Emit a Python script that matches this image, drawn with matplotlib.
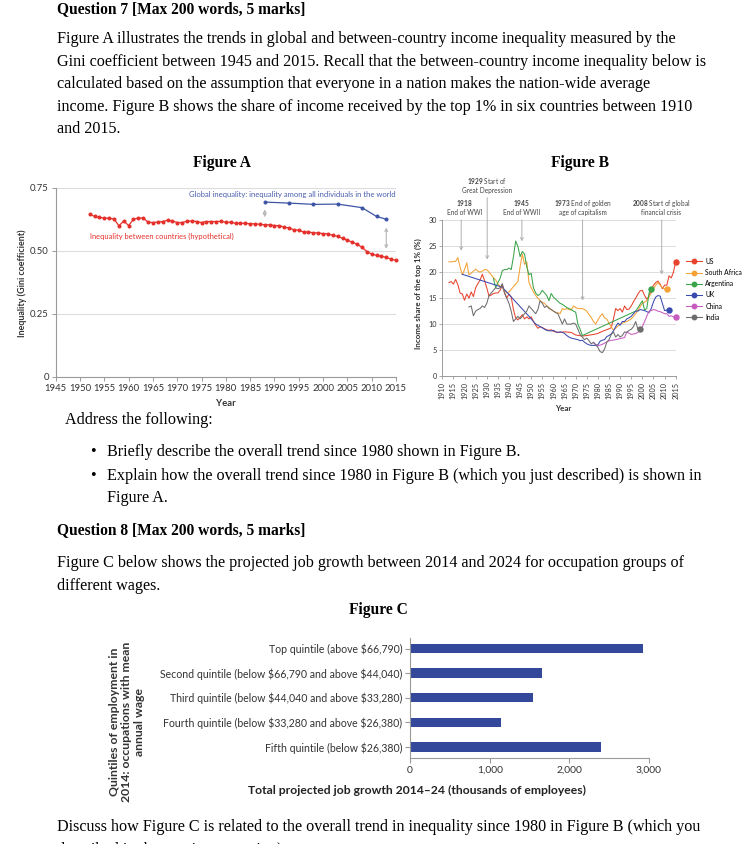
import matplotlib
matplotlib.use("Agg")
import matplotlib.pyplot as plt
from matplotlib.lines import Line2D

W, H = 753, 844
plt.rcParams['font.family'] = ['Lato', 'DejaVu Sans']
plt.rcParams['mathtext.fontset'] = 'custom'
plt.rcParams['mathtext.rm'] = 'Lato'
plt.rcParams['mathtext.bf'] = 'Lato:bold'

# ---------------- Figure A data ----------------
between_years = list(range(1952, 2016))
between_gini = [0.645, 0.636, 0.632, 0.630, 0.629, 0.626, 0.599, 0.618, 0.600, 0.625,
                0.630, 0.630, 0.613, 0.612, 0.614, 0.616, 0.621, 0.618, 0.612, 0.612,
                0.617, 0.618, 0.616, 0.612, 0.616, 0.616, 0.616, 0.617, 0.613, 0.613,
                0.609, 0.609, 0.609, 0.607, 0.607, 0.605, 0.603, 0.603, 0.600, 0.600,
                0.593, 0.591, 0.583, 0.582, 0.574, 0.575, 0.571, 0.571, 0.568, 0.567,
                0.561, 0.558, 0.549, 0.542, 0.534, 0.526, 0.514, 0.497, 0.487, 0.482,
                0.478, 0.474, 0.467, 0.462]
global_years = [1988, 1993, 1998, 2003, 2008, 2011, 2013]
global_gini = [0.693, 0.689, 0.684, 0.685, 0.671, 0.636, 0.625]

# ---------------- Figure B data ----------------
us_years = [1913, 1914, 1915, 1916, 1917, 1918, 1919, 1920, 1921, 1922, 1923, 1924, 1925, 1926,
            1927, 1928, 1929, 1930, 1931, 1932, 1933, 1934, 1935, 1936, 1937, 1938, 1939, 1940,
            1941, 1942, 1943, 1944, 1945, 1946, 1947, 1948, 1949, 1950, 1951, 1952, 1953, 1954,
            1955, 1956, 1957, 1958, 1959, 1960, 1962, 1965, 1968, 1970, 1973, 1975, 1978, 1980,
            1982, 1985, 1986, 1987, 1988, 1989, 1990, 1991, 1992, 1993, 1994, 1995, 1996, 1997,
            1998, 1999, 2000, 2001, 2002, 2003, 2004, 2005, 2006, 2007, 2008, 2009, 2010, 2011,
            2012, 2013, 2014, 2015]
us_share = [18.0, 18.2, 17.7, 18.6, 17.6, 16.0, 15.8, 14.6, 15.8, 15.0, 16.2, 15.3, 17.0, 17.8,
            18.5, 19.6, 18.4, 17.0, 15.4, 15.6, 15.9, 16.0, 16.0, 16.5, 17.6, 16.0, 15.0, 15.8,
            15.2, 12.8, 11.2, 10.8, 11.3, 11.8, 11.0, 11.4, 11.0, 11.4, 10.5, 9.8, 9.2, 9.5,
            9.3, 9.1, 8.9, 8.8, 8.9, 8.6, 8.4, 8.5, 8.4, 7.9, 7.7, 7.8, 8.0, 8.2,
            8.6, 9.1, 9.3, 11.0, 13.0, 12.6, 13.0, 12.3, 13.5, 12.8, 12.9, 13.5, 14.3, 15.0,
            15.8, 16.4, 16.5, 15.5, 14.8, 15.4, 16.5, 17.5, 18.0, 18.3, 17.7, 16.8, 17.5, 17.5,
            19.3, 18.9, 20.0, 22.0]

sa_years = [1913, 1914, 1916, 1917, 1918, 1919, 1920, 1921, 1922, 1923, 1924, 1925, 1926, 1927,
            1928, 1929, 1930, 1931, 1932, 1933, 1934, 1935, 1936, 1937, 1938, 1939, 1940, 1941,
            1942, 1943, 1944, 1945, 1946, 1947, 1948, 1949, 1950, 1951, 1952, 1953, 1954, 1955,
            1956, 1957, 1958, 1959, 1960, 1961, 1962, 1963, 1964, 1965, 1966, 1967, 1968, 1969,
            1970, 1971, 1972, 1973, 1974, 1975, 1976, 1977, 1978, 1979, 1980, 1981, 1982, 1983,
            1984, 1985, 1986, 1987, 1990, 1993, 1995, 1997, 2000, 2002, 2004, 2006, 2007, 2008,
            2009, 2010, 2011]
sa_share = [22.0, 22.0, 22.1, 22.8, 21.0, 19.5, 20.5, 21.8, 19.5, 19.8, 20.2, 20.6, 20.2, 20.0,
            20.2, 20.5, 20.5, 20.0, 19.5, 19.0, 18.5, 17.8, 17.2, 17.0, 16.5, 16.0, 16.2, 16.7,
            17.2, 17.7, 18.2, 21.0, 23.5, 21.5, 22.0, 18.0, 17.0, 16.2, 15.5, 15.0, 14.5, 14.2,
            14.0, 13.5, 13.2, 12.8, 12.5, 12.3, 12.2, 12.0, 13.0, 12.8, 13.0, 12.8, 12.7, 13.5,
            13.2, 13.0, 13.0, 13.0, 12.8, 12.5, 11.8, 11.3, 10.5, 10.0, 10.8, 11.5, 12.0, 11.2,
            11.0, 10.2, 9.5, 8.8, 10.0, 10.5, 11.0, 12.0, 14.0, 14.5, 16.0, 17.5, 18.0, 17.5,
            17.0, 16.8, 16.8]

arg_years = [1933, 1934, 1935, 1936, 1937, 1938, 1939, 1940, 1941, 1942, 1943, 1944, 1945, 1946,
             1947, 1948, 1949, 1950, 1951, 1952, 1953, 1954, 1955, 1956, 1957, 1958, 1959, 1960,
             1961, 1962, 1963, 1964, 1965, 1966, 1967, 1968, 1969, 1970, 1971, 1972, 1973, 1997,
             2000, 2001, 2002, 2003, 2004]
arg_share = [18.8, 17.0, 18.0, 18.8, 20.3, 20.5, 20.5, 20.8, 20.5, 23.0, 26.0, 25.0, 23.0, 24.0,
             23.5, 21.0, 19.5, 19.8, 17.0, 16.0, 15.5, 15.8, 16.5, 16.0, 15.5, 14.5, 15.9, 15.2,
             14.8, 14.4, 14.0, 13.8, 13.5, 13.2, 13.0, 12.8, 12.5, 12.3, 10.0, 9.0, 7.8, 12.5,
             14.5, 12.7, 13.0, 16.0, 16.8]

uk_years = [1919, 1937, 1949, 1951, 1952, 1953, 1954, 1955, 1956, 1957, 1958, 1959, 1960, 1961,
            1962, 1963, 1964, 1965, 1966, 1967, 1968, 1969, 1970, 1971, 1972, 1973, 1974, 1975,
            1976, 1977, 1978, 1979, 1980, 1981, 1982, 1983, 1984, 1985, 1986, 1987, 1988, 1989,
            1990, 1991, 1992, 1993, 1994, 1995, 1996, 1997, 1998, 1999, 2000, 2001, 2002, 2003,
            2004, 2005, 2006, 2007, 2008, 2009, 2010, 2011, 2012]
uk_share = [19.6, 17.1, 11.5, 10.5, 10.0, 9.8, 9.5, 9.3, 9.0, 8.8, 8.7, 8.7, 8.8, 8.5,
            8.4, 8.5, 8.4, 8.2, 7.8, 7.5, 7.3, 7.2, 7.1, 7.0, 6.8, 6.9, 6.5, 6.2,
            6.0, 5.9, 5.9, 5.9, 6.0, 6.7, 6.9, 7.0, 7.6, 7.8, 8.1, 8.7, 9.5, 10.2,
            9.8, 10.5, 10.5, 11.0, 11.2, 11.5, 12.0, 12.5, 12.5, 12.8, 12.7, 12.6, 12.4, 12.2,
            13.0, 14.3, 15.2, 15.5, 15.4, 14.0, 12.6, 12.7, 12.8]

china_years = [1978, 1980, 1982, 1985, 1988, 1990, 1992, 1993, 1995, 1997, 1998, 1999, 2000,
               2001, 2002, 2003, 2004, 2005, 2006, 2007, 2008, 2009, 2010, 2011, 2012, 2013,
               2014, 2015]
china_share = [6.4, 5.8, 6.1, 6.8, 7.0, 7.2, 7.4, 8.5, 8.0, 8.2, 8.4, 9.0, 9.5,
               10.5, 11.5, 12.5, 12.6, 12.8, 12.7, 12.5, 12.4, 12.2, 12.0, 12.0, 11.5, 11.6,
               11.4, 11.3]

india_years = [1922, 1923, 1924, 1925, 1926, 1927, 1928, 1929, 1930, 1931, 1932, 1933, 1934, 1935,
               1936, 1937, 1938, 1939, 1940, 1941, 1942, 1943, 1944, 1945, 1946, 1947, 1948, 1949,
               1950, 1951, 1952, 1953, 1954, 1955, 1956, 1957, 1958, 1959, 1960, 1961, 1962, 1963,
               1964, 1965, 1966, 1967, 1968, 1969, 1970, 1971, 1972, 1973, 1974, 1975, 1976, 1977,
               1978, 1979, 1980, 1981, 1982, 1983, 1984, 1985, 1986, 1987, 1988, 1989, 1990, 1991,
               1992, 1993, 1994, 1995, 1996, 1997, 1998, 1999]
india_share = [13.3, 13.5, 11.6, 12.5, 12.8, 13.0, 13.5, 13.2, 14.0, 15.5, 16.0, 16.5, 17.0, 16.8,
               17.0, 17.8, 16.0, 15.0, 14.0, 12.5, 10.5, 11.0, 11.5, 11.0, 11.5, 12.0, 12.5, 13.5,
               13.0, 12.5, 12.0, 12.8, 14.5, 14.0, 13.2, 13.5, 13.0, 12.8, 12.5, 12.2, 12.0, 11.0,
               10.0, 11.0, 10.0, 10.0, 10.0, 10.2, 10.0, 9.0, 8.0, 7.5, 7.0, 7.3, 6.8, 6.2,
               6.5, 6.0, 5.5, 4.7, 4.5, 5.2, 6.5, 7.0, 8.0, 8.5, 7.5, 8.0, 7.5, 7.8,
               8.5, 8.4, 8.8, 9.0, 9.5, 10.5, 9.0, 9.0]

countries = ['US', 'South Africa', 'Argentina', 'UK', 'China', 'India']
country_colors = ['#e8432d', '#f4a236', '#3aa44a', '#3a4bb0', '#c85bc0', '#6d6d6d']
country_years = [us_years, sa_years, arg_years, uk_years, china_years, india_years]
country_shares = [us_share, sa_share, arg_share, uk_share, china_share, india_share]

events = [(1918.5, 1920.0, 32.6, 30.6, 23.6, '$\\mathbf{1918}$\nEnd of WWI'),
          (1930.2, 1930.2, 36.8, 34.9, 21.9, '$\\mathbf{1929}$ Start of\nGreat Depression'),
          (1945.8, 1945.8, 32.6, 30.6, 25.4, '$\\mathbf{1945}$\nEnd of WWII'),
          (1973.1, 1973.1, 32.6, 30.6, 14.0, '$\\mathbf{1973}$ End of golden\nage of capitalism'),
          (2008.7, 2008.6, 32.6, 30.6, 19.0, '$\\mathbf{2008}$ Start of global\nfinancial crisis')]

# ---------------- Figure C data ----------------
quintiles = ['Top quintile (above \\$66,790)',
             'Second quintile (below \\$66,790 and above \\$44,040)',
             'Third quintile (below \\$44,040 and above \\$33,280)',
             'Fourth quintile (below \\$33,280 and above \\$26,380)',
             'Fifth quintile (below \\$26,380)']
job_growth = [2930, 1663, 1546, 1145, 2403]

fig = plt.figure(figsize=(W / 100, H / 100), dpi=100)
fig.patch.set_facecolor('white')


def fy(ypx):
    return 1 - ypx / H


def fx(xpx):
    return xpx / W


SERIF = ['Liberation Serif', 'DejaVu Serif']
BODY = 11.6
HEAD = 11.2

fig.text(fx(57), fy(9), 'Question 7 [Max 200 words, 5 marks]', family=SERIF, weight='bold',
         fontsize=HEAD, va='center', ha='left')
para = ['Figure A illustrates the trends in global and between-country income inequality measured by the',
        'Gini coefficient between 1945 and 2015. Recall that the between-country income inequality below is',
        'calculated based on the assumption that everyone in a nation makes the nation-wide average',
        'income. Figure B shows the share of income received by the top 1% in six countries between 1910',
        'and 2015.']
for i, line in enumerate(para):
    fig.text(fx(57), fy(39 + i * 22.6), line, family=SERIF, fontsize=BODY, va='center', ha='left')

fig.text(fx(222), fy(163), 'Figure A', family=SERIF, weight='bold', fontsize=HEAD, ha='center', va='center')
fig.text(fx(580), fy(163), 'Figure B', family=SERIF, weight='bold', fontsize=HEAD, ha='center', va='center')

fig.text(fx(65), fy(420), 'Address the following:', family=SERIF, fontsize=BODY, va='center', ha='left')
fig.text(fx(93), fy(452), '\u2022', family=SERIF, fontsize=BODY, va='center', ha='center')
fig.text(fx(107), fy(452), 'Briefly describe the overall trend since 1980 shown in Figure B.', family=SERIF,
         fontsize=BODY, va='center', ha='left')
fig.text(fx(93), fy(476), '\u2022', family=SERIF, fontsize=BODY, va='center', ha='center')
fig.text(fx(107), fy(476), 'Explain how the overall trend since 1980 in Figure B (which you just described) is shown in',
         family=SERIF, fontsize=BODY, va='center', ha='left')
fig.text(fx(107), fy(498), 'Figure A.', family=SERIF, fontsize=BODY, va='center', ha='left')

fig.text(fx(57), fy(530), 'Question 8 [Max 200 words, 5 marks]', family=SERIF, weight='bold',
         fontsize=HEAD, va='center', ha='left')
fig.text(fx(57), fy(563), 'Figure C below shows the projected job growth between 2014 and 2024 for occupation groups of',
         family=SERIF, fontsize=BODY, va='center', ha='left')
fig.text(fx(57), fy(586), 'different wages.', family=SERIF, fontsize=BODY, va='center', ha='left')
fig.text(fx(378), fy(610), 'Figure C', family=SERIF, weight='bold', fontsize=HEAD, ha='center', va='center')
fig.text(fx(57), fy(827), 'Discuss how Figure C is related to the overall trend in inequality since 1980 in Figure B (which you',
         family=SERIF, fontsize=BODY, va='center', ha='left')
fig.text(fx(57), fy(850), 'described in the previous question).', family=SERIF, fontsize=BODY, va='center', ha='left')

GRAY = '#9a9a9a'
GRID = '#dcdcdc'

# ---------------- Figure A ----------------
axA = fig.add_axes([fx(55.7), fy(377), fx(396 - 55.7), (377 - 187.7) / H])
axA.set_xlim(1945, 2015)
axA.set_ylim(0, 0.75)
axA.set_xticks(range(1945, 2016, 5))
axA.set_yticks([0, 0.25, 0.5, 0.75])
axA.set_yticklabels(['0', '0.25', '0.50', '0.75'])
axA.yaxis.grid(True, color=GRID, lw=0.8)
axA.set_axisbelow(True)
for s in ['top', 'right']:
    axA.spines[s].set_visible(False)
for s in ['left', 'bottom']:
    axA.spines[s].set_color(GRAY)
    axA.spines[s].set_linewidth(0.8)
axA.tick_params(axis='both', labelsize=6.8, colors=GRAY, labelcolor='#333333', length=3, width=0.7, pad=2)
axA.plot(between_years, between_gini, color='#e5302b', lw=0.9, marker='o', ms=1.9, clip_on=False)
axA.plot(global_years, global_gini, color='#3d55a5', lw=0.9, marker='o', ms=1.9, clip_on=False)
axA.annotate('', xy=(1988, 0.675), xytext=(1988, 0.622),
             arrowprops=dict(arrowstyle='<->', color='#b5b5b5', lw=0.8, mutation_scale=5))
axA.annotate('', xy=(2013, 0.603), xytext=(2013, 0.497),
             arrowprops=dict(arrowstyle='<->', color='#b5b5b5', lw=0.8, mutation_scale=5))
axA.text(2015, 0.724, 'Global inequality: inequality among all individuals in the world',
         color='#4a5fae', fontsize=5.5, ha='right', va='center')
axA.text(1952, 0.558, 'Inequality between countries (hypothetical)', color='#e5302b',
         fontsize=5.4, ha='left', va='center')
fig.text(fx(22), fy(283), 'Inequality (Gini coefficient)', rotation=90, weight='bold', fontsize=6.4,
         ha='center', va='center', color='#333333')
fig.text(fx(226), fy(403), 'Year', weight='bold', fontsize=6.8, ha='center', va='center', color='#333333')

# ---------------- Figure B ----------------
axB = fig.add_axes([fx(442.3), fy(376), fx(675.7 - 442.3), (376 - 220.3) / H])
axB.set_xlim(1910, 2015)
axB.set_ylim(0, 30)
axB.set_xticks(range(1910, 2016, 5))
axB.set_yticks(range(0, 31, 5))
axB.yaxis.grid(True, color=GRID, lw=0.7)
axB.set_axisbelow(True)
for s in ['top', 'right']:
    axB.spines[s].set_visible(False)
for s in ['left', 'bottom']:
    axB.spines[s].set_color(GRAY)
    axB.spines[s].set_linewidth(0.7)
axB.tick_params(axis='both', labelsize=5.2, colors=GRAY, labelcolor='#333333', length=2.5, width=0.6, pad=1.5)
axB.tick_params(axis='x', rotation=90)
for name, col, yrs, vals in zip(countries, country_colors, country_years, country_shares):
    axB.plot(yrs, vals, color=col, lw=0.75)
    axB.plot(yrs[-1:], vals[-1:], 'o', color=col, ms=3.6, clip_on=False)
for ax_x, tx, ty, y0, y1, label in events:
    axB.text(tx, ty, label, fontsize=4.7, ha='center', va='center', color='#444444', linespacing=1.1)
    axB.annotate('', xy=(ax_x, y1), xytext=(ax_x, y0), annotation_clip=False,
                 arrowprops=dict(arrowstyle='->', color='#b0b0b0', lw=0.7, mutation_scale=5))
handles = [Line2D([0], [0], color=c, lw=0.75, marker='o', ms=3.2) for c in country_colors]
axB.legend(handles, countries, loc='upper left', bbox_to_anchor=(1.045, 0.76), frameon=False,
           fontsize=4.9, handlelength=2.3, handletextpad=0.5, labelspacing=0.62, borderaxespad=0,
           borderpad=0)
fig.text(fx(418), fy(294), 'Income share of the top 1% (%)', rotation=90, weight='bold', fontsize=5.8,
         ha='center', va='center', color='#333333')
fig.text(fx(563), fy(409), 'Year', weight='bold', fontsize=5.8, ha='center', va='center', color='#333333')

# ---------------- Figure C ----------------
axC = fig.add_axes([fx(410), fy(758), fx(649 - 410), (758 - 637.5) / H])
ypos = list(range(len(quintiles)))
axC.barh(ypos, job_growth, height=0.38, color='#33479b')
axC.set_xlim(0, 3000)
axC.set_ylim(len(quintiles) - 0.55, -0.45)
axC.set_yticks(ypos)
axC.set_yticklabels(quintiles)
axC.set_xticks([0, 1000, 2000, 3000])
axC.set_xticklabels(['0', '1,000', '2,000', '3,000'])
for s in ['top', 'right']:
    axC.spines[s].set_visible(False)
for s in ['left', 'bottom']:
    axC.spines[s].set_color(GRAY)
    axC.spines[s].set_linewidth(0.8)
axC.tick_params(axis='y', labelsize=7.6, colors=GRAY, labelcolor='#333333', length=3.5, width=0.8, pad=2)
axC.tick_params(axis='x', labelsize=7.4, colors=GRAY, labelcolor='#333333', length=3.5, width=0.8, pad=2)
fig.text(fx(417), fy(790), 'Total projected job growth 2014\u201324 (thousands of employees)', weight='bold',
         fontsize=8.7, ha='center', va='center', color='#222222')
fig.text(fx(127), fy(722), 'Quintiles of employment in\n2014: occupations with mean\nannual wage', rotation=90,
         weight='bold', fontsize=8.8, ha='center', va='center', color='#333333', linespacing=1.12)

fig.savefig('out.png', dpi=100)
